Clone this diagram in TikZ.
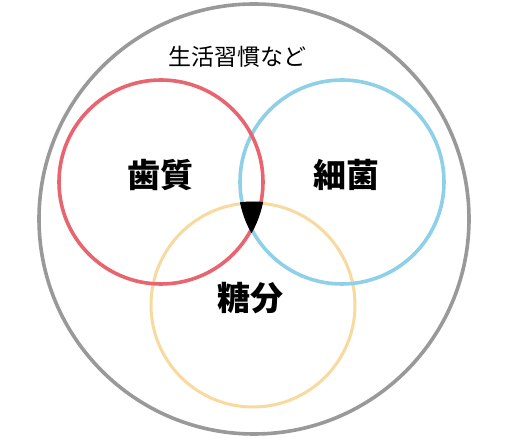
\documentclass[tikz,border=0pt]{standalone}
\usepackage{fontspec}
\newfontfamily\cjk{Noto Sans CJK JP}
\definecolor{cgray}{HTML}{999999}
\definecolor{cred}{HTML}{E8646E}
\definecolor{cblue}{HTML}{8DD0E8}
\definecolor{cyellow}{HTML}{F8DA9E}
\begin{document}
\begin{tikzpicture}[x=1pt,y=-1pt,
  ring/.style={line width=3.6pt},
  big/.style={font=\cjk\bfseries\fontsize{33}{36}\selectfont, inner sep=0pt},
  small/.style={font=\cjk\fontsize{23}{26}\selectfont, inner sep=0pt}]
\useasboundingbox (0,0) rectangle (528,438);
\fill[white] (0,0) rectangle (528,438);
\draw[ring, cgray] (254,219) circle[radius=215];
\draw[ring, cyellow, line width=3pt] (253,305) circle[radius=102];
\draw[ring, cblue] (342,182) circle[radius=102];
\draw[ring, cred] (161,182) circle[radius=102];
\begin{scope}
  \clip (161,182) circle[radius=104];
  \clip (342,182) circle[radius=104];
  \fill[black] (253,305) circle[radius=103.5];
\end{scope}
\node[small] (life) at (237,57) {生活習慣など};
\node[big] (enamel) at (160,175) {歯質};
\node[big] (bact) at (346,175) {細菌};
\node[big] (sugar) at (250,298) {糖分};
\end{tikzpicture}
\end{document}
